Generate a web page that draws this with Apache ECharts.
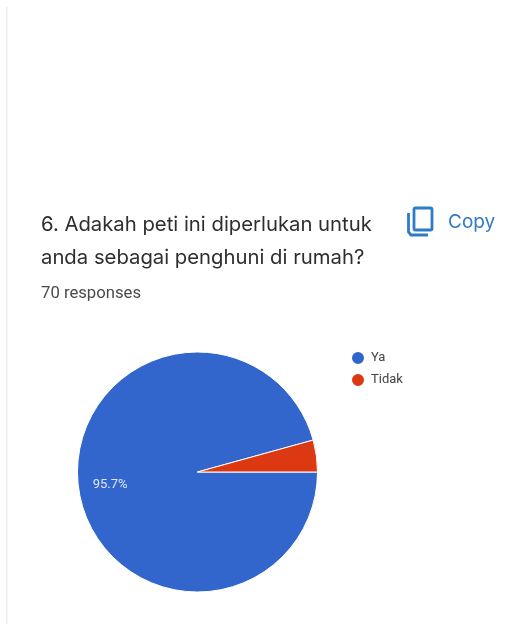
<!DOCTYPE html>
<html>
<head>
<meta charset="utf-8">
<style>html,body{margin:0;padding:0;background:#fff}#chart{width:523px;height:624px}</style>
<script src="https://cdn.jsdelivr.net/npm/echarts@6/dist/echarts.min.js"></script>
</head>
<body>
<div id="chart"></div>
<script>
const categories = ['Ya', 'Tidak'];
const responses = [67, 3];
const sliceColors = ['#3366cc', '#dc3912'];
const questionLines = ['6. Adakah peti ini diperlukan untuk', 'anda sebagai penghuni di rumah?'];
const responseNote = '70 responses';
const copyLabel = 'Copy';

const chart = echarts.init(document.getElementById('chart'), null, { renderer: 'canvas' });
const titleFont = 'Inter, "Open Sans", sans-serif';

chart.setOption({
  animation: false,
  backgroundColor: '#ffffff',
  legend: {
    orient: 'vertical', left: 345, top: 345,
    icon: 'circle', itemWidth: 14, itemHeight: 14, itemGap: 6,
    textStyle: { fontFamily: 'Roboto', fontSize: 13, color: '#444', padding: [0, 0, 0, 1] },
    data: categories
  },
  series: [{
    type: 'pie',
    center: [197.5, 472], radius: 120,
    startAngle: 0, clockwise: true,
    silent: true,
    itemStyle: { borderColor: '#fff', borderWidth: 1 },
    label: {
      show: true, position: 'inside', offset: [-25, 4],
      fontFamily: 'Roboto', fontSize: 13, color: '#dfe8f8',
      formatter: p => p.percent >= 50 ? p.percent.toFixed(1) + '%' : ''
    },
    labelLine: { show: false },
    data: categories.map((name, i) => ({
      name, value: responses[i], itemStyle: { color: sliceColors[i] }
    }))
  }],
  graphic: [
    // card edge
    { type: 'rect', shape: { x: 6, y: 7, width: 1.5, height: 617 }, style: { fill: '#ededed' } },
    { type: 'text', x: 41, y: 225, style: { text: questionLines[0], font: '20.3px ' + titleFont, fill: '#2e2e2e', textVerticalAlign: 'middle' } },
    { type: 'text', x: 41, y: 258, style: { text: questionLines[1], font: '20.3px ' + titleFont, fill: '#2e2e2e', textVerticalAlign: 'middle' } },
    { type: 'text', x: 41, y: 294, style: { text: responseNote, font: '16.7px Roboto', fill: '#4a4a4a', textVerticalAlign: 'middle' } },
    // copy icon
    { type: 'rect', shape: { x: 414, y: 208, width: 18, height: 22, r: 1.5 }, style: { fill: 'none', stroke: '#2f7bc4', lineWidth: 2.8 } },
    { type: 'polyline', shape: { points: [[408.5, 213], [408.5, 232], [411, 235], [428, 235]] }, style: { fill: 'none', stroke: '#2f7bc4', lineWidth: 2.8 } },
    { type: 'text', x: 448, y: 222, style: { text: copyLabel, font: '19px ' + titleFont, fill: '#2f7bc4', textVerticalAlign: 'middle' } }
  ]
});
</script>
</body>
</html>
